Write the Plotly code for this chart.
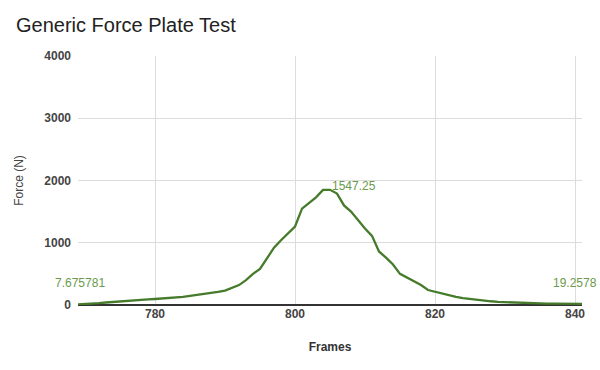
import plotly.graph_objects as go

frames = list(range(769, 842))
force = [
    7.675781, 12, 20, 30, 40, 50, 58, 65, 72, 82, 90, 96,      # 769-780
    102, 110, 120, 130, 145, 160, 172, 190, 210, 230,          # 781-790
    270, 320, 400, 500, 580, 760, 920, 1040, 1150, 1260,       # 791-800
    1547.25, 1640, 1730, 1850, 1850, 1790, 1600, 1500, 1360, 1230,  # 801-810
    1110, 860, 760, 650, 500, 440, 380, 320, 240, 210,         # 811-820
    185, 160, 130, 110, 95, 80, 70, 60, 50, 45,                # 821-830
    38, 33, 28, 25, 23, 22, 21, 20, 20, 19.5,                  # 831-840
    19.2578,                                                   # 841
]
x_ticks = [780, 800, 820, 840]
y_ticks = [0, 1000, 2000, 3000, 4000]

line_color = "#457b2b"
label_color = "#6a9a4c"
font = "Liberation Sans, Arial, sans-serif"

fig = go.Figure()
fig.add_trace(go.Scatter(
    x=frames, y=force, mode="lines",
    line=dict(color=line_color, width=2.3),
    hoverinfo="skip", showlegend=False,
))

lab_font = dict(family=font, size=12, color=label_color)
fig.add_annotation(x=769.3, y=354, xref="x", yref="y", text="7.675781",
                   showarrow=False, xanchor="center", yanchor="middle", font=lab_font)
fig.add_annotation(x=805.0, y=1914, xref="x", yref="y", text="1547.25",
                   showarrow=False, xanchor="left", yanchor="middle", font=lab_font)
fig.add_annotation(x=1, y=354, xref="paper", yref="y", text="19.2578", xshift=17,
                   showarrow=False, xanchor="right", yanchor="middle", font=lab_font)

fig.update_layout(
    width=600, height=370,
    margin=dict(l=78, r=18, t=56, b=65),
    paper_bgcolor="white", plot_bgcolor="white",
    title=dict(text="Generic Force Plate Test", x=16/600, xanchor="left",
               y=1-25/370, yanchor="middle",
               font=dict(family=font, size=20, color="#222222")),
    font=dict(family=font, color="#444444"),
    xaxis=dict(range=[769, 841], tickvals=x_ticks, showgrid=True,
               gridcolor="#dcdcdc", gridwidth=1, zeroline=False,
               showline=False, ticks="",
               tickfont=dict(family=font, size=12, color="#444444", weight="bold"),
               title=dict(text="Frames", standoff=22,
                          font=dict(family=font, size=12, color="#333333", weight="bold"))),
    yaxis=dict(range=[0, 4000], tickvals=y_ticks, showgrid=True,
               gridcolor="#dcdcdc", gridwidth=1, zeroline=True,
               zerolinecolor="#333333", zerolinewidth=1.5,
               showline=False, ticks="", ticklabelstandoff=6,
               tickfont=dict(family=font, size=12, color="#444444", weight="bold"),
               title=dict(text="Force (N)", standoff=18,
                          font=dict(family=font, size=12, color="#444444"))),
)

fig.write_html("out.html", config={"displayModeBar": False},
               post_script="document.body.style.margin='0';")
